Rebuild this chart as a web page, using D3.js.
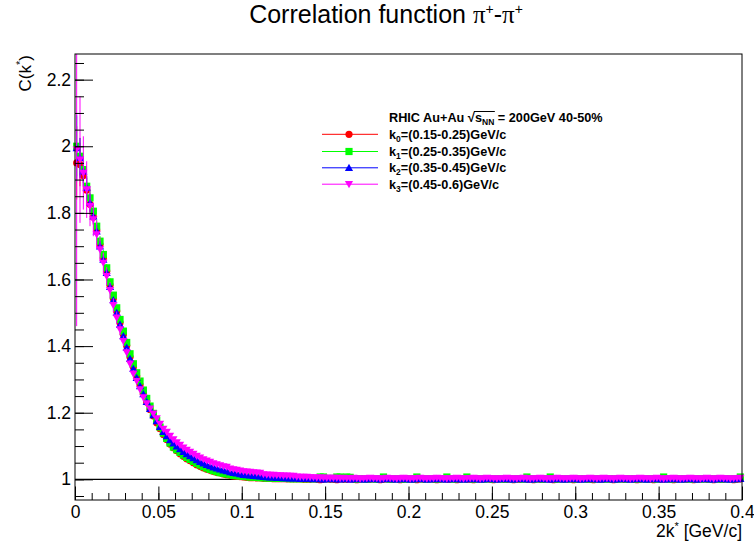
<!DOCTYPE html>
<html><head><meta charset="utf-8">
<script src="https://cdn.jsdelivr.net/npm/d3@7/dist/d3.min.js"></script>
<style>
body{margin:0;background:#fff}
svg{display:block}
text{font-family:"Liberation Sans",Arial,Helvetica,sans-serif;fill:#000}
</style>
</head><body>
<svg id="chart" width="754" height="544"></svg>
<script>
// ---------------- data ----------------
const binLow = 0, binWidth = 0.002, nBins = 200;
const xTicks = [0,0.05,0.1,0.15,0.2,0.25,0.3,0.35,0.4];
const xTickLabels = ["0","0.05","0.1","0.15","0.2","0.25","0.3","0.35","0.4"];
const yTicks = [1,1.2,1.4,1.6,1.8,2,2.2];
const yTickLabels = ["1","1.2","1.4","1.6","1.8","2","2.2"];
const seriesNames = ["k0","k1","k2","k3"];
const legendRanges = ["=(0.15-0.25)GeV/c","=(0.25-0.35)GeV/c","=(0.35-0.45)GeV/c","=(0.45-0.6)GeV/c"];

const k0Head = [1.950,1.945,1.912,1.868,1.826,1.788,1.748,1.705,1.664,1.625,
 1.583,1.543,1.505,1.470,1.435,1.401,1.367,1.337,1.309,1.283,
 1.257,1.232,1.210,1.190,1.170,1.152,1.135,1.120,1.106,1.095,
 1.086,1.077,1.069,1.062,1.056,1.050,1.044,1.039,1.034,1.030,
 1.027,1.024,1.021,1.019,1.016,1.014,1.012,1.010,1.009,1.008,
 1.007,1.006,1.005,1.005,1.004,1.004,1.003,1.003,1.003,1.002,
 1.002,1.002,1.002,1.001,1.001,1.001,1.001,1.001,1.000,1.000];
const k0Tail = [1.000,1.001,1.000,0.999,1.000,1.001,1.000,1.000,0.999,1.001,
 1.000,1.000,1.001,1.000,0.999,1.000,1.001,1.000,1.000,1.001,
 1.000,0.999,1.000,1.001,1.000,1.000,1.001,0.999,1.000,1.001,
 1.000,1.000,0.999,1.001,1.000,1.000,1.001,1.000,0.999,1.000,
 1.001,1.000,1.000,1.001,0.999,1.000,1.001,1.000,1.000,0.999,
 1.001,1.000,1.000,1.001,1.000,0.999,1.000,1.001,1.000,1.000,
 1.001,0.999,1.000,1.000,1.001,1.000,1.000,0.999,1.001,1.000,
 1.000,1.001,1.000,0.999,1.000,1.001,1.000,1.000,1.001,0.999,
 1.000,1.000,1.001,1.000,1.000,0.999,1.001,1.000,1.000,1.001,
 1.000,0.999,1.000,1.001,1.000,1.000,1.001,1.000,0.999,1.000,
 1.001,1.000,1.000,0.999,1.001,1.000,1.000,1.001,1.000,0.999,
 1.000,1.001,1.000,1.000,1.001,0.999,1.000,1.000,1.001,1.000,
 1.000,0.999,1.001,1.000,1.000,1.001,1.000,0.999,1.000,1.001];

const k1Head = [2.000,1.970,1.930,1.880,1.845,1.805,1.760,1.715,1.675,1.635,
 1.593,1.553,1.515,1.480,1.445,1.411,1.377,1.347,1.320,1.295,
 1.268,1.243,1.220,1.198,1.177,1.157,1.139,1.123,1.109,1.097,
 1.089,1.081,1.073,1.066,1.060,1.054,1.048,1.043,1.038,1.034,
 1.030,1.026,1.023,1.020,1.018,1.016,1.014,1.012,1.011,1.010,
 1.009,1.008,1.007,1.007,1.006,1.005,1.005,1.004,1.004,1.004,
 1.003,1.003,1.003,1.003,1.002,1.002,1.002,1.002,1.002,1.002];
const k1Tail = [1.002,1.002,1.002,1.007,1.007,1.002,1.003,1.002,1.007,1.007,
 1.002,1.007,1.006,1.002,1.001,1.002,1.002,1.001,1.002,1.002,
 1.001,1.002,1.007,1.002,1.001,1.002,1.002,1.001,1.002,1.001,
 1.002,1.001,1.007,1.002,1.002,1.001,1.002,1.002,1.001,1.002,
 1.002,1.007,1.002,1.001,1.002,1.002,1.001,1.007,1.002,1.001,
 1.002,1.002,1.001,1.002,1.002,1.001,1.002,1.002,1.001,1.002,
 1.002,1.001,1.002,1.002,1.001,1.007,1.002,1.001,1.002,1.002,
 1.001,1.002,1.007,1.002,1.001,1.002,1.002,1.001,1.002,1.002,
 1.001,1.002,1.002,1.001,1.002,1.002,1.001,1.002,1.002,1.001,
 1.002,1.002,1.001,1.002,1.002,1.001,1.002,1.002,1.001,1.002,
 1.002,1.001,1.002,1.002,1.001,1.002,1.007,1.002,1.001,1.002,
 1.002,1.001,1.002,1.002,1.001,1.002,1.002,1.001,1.002,1.002,
 1.001,1.002,1.002,1.001,1.002,1.002,1.001,1.002,1.002,1.007];

const k2Head = [1.995,1.965,1.925,1.875,1.830,1.790,1.745,1.700,1.660,1.620,
 1.578,1.538,1.500,1.465,1.430,1.396,1.362,1.332,1.305,1.280,
 1.256,1.233,1.212,1.193,1.175,1.158,1.143,1.130,1.118,1.108,
 1.099,1.091,1.083,1.076,1.070,1.064,1.058,1.053,1.048,1.044,
 1.040,1.036,1.033,1.030,1.027,1.025,1.022,1.020,1.018,1.016,
 1.014,1.013,1.012,1.011,1.010,1.009,1.008,1.007,1.006,1.006,
 1.005,1.005,1.004,1.004,1.003,1.003,1.003,1.002,1.002,1.002];
const k2Tail = [1.002,1.001,1.002,1.001,1.000,1.001,1.002,1.001,1.001,1.000,
 1.002,1.001,1.000,1.001,1.002,1.001,1.000,1.001,1.001,1.002,
 1.001,1.000,1.001,1.002,1.001,1.001,1.000,1.001,1.002,1.001,
 1.000,1.001,1.001,1.002,1.001,1.000,1.001,1.001,1.002,1.001,
 1.001,1.000,1.001,1.002,1.001,1.001,1.000,1.001,1.001,1.002,
 1.001,1.000,1.001,1.001,1.002,1.001,1.000,1.001,1.002,1.001,
 1.001,1.000,1.001,1.002,1.001,1.001,1.000,1.001,1.001,1.002,
 1.001,1.001,1.000,1.001,1.002,1.001,1.000,1.001,1.001,1.002,
 1.001,1.000,1.001,1.001,1.002,1.001,1.001,1.000,1.001,1.002,
 1.001,1.000,1.001,1.001,1.002,1.001,1.000,1.001,1.002,1.001,
 1.001,1.000,1.001,1.002,1.001,1.001,1.000,1.001,1.001,1.002,
 1.001,1.000,1.001,1.001,1.002,1.001,1.000,1.001,1.002,1.001,
 1.001,1.000,1.001,1.002,1.001,1.001,1.000,1.001,1.001,1.002];

const k3Head = [1.990,1.960,1.920,1.870,1.820,1.780,1.735,1.690,1.650,1.610,
 1.568,1.523,1.485,1.450,1.415,1.381,1.347,1.317,1.295,1.270,
 1.246,1.228,1.212,1.197,1.183,1.166,1.151,1.142,1.130,1.120,
 1.111,1.103,1.095,1.088,1.082,1.076,1.070,1.065,1.060,1.056,
 1.052,1.048,1.045,1.042,1.039,1.037,1.032,1.030,1.028,1.026,
 1.024,1.023,1.022,1.021,1.020,1.019,1.015,1.014,1.013,1.013,
 1.012,1.012,1.011,1.011,1.010,1.010,1.008,1.007,1.007,1.007];
const k3Tail = [1.006,1.006,1.005,1.005,1.005,1.004,1.004,1.004,1.004,1.003,
 1.004,1.003,1.003,1.004,1.003,1.002,1.003,1.003,1.004,1.003,
 1.003,1.002,1.003,1.004,1.003,1.003,1.002,1.003,1.004,1.003,
 1.002,1.003,1.003,1.004,1.003,1.002,1.003,1.003,1.004,1.003,
 1.003,1.002,1.003,1.003,1.004,1.003,1.002,1.003,1.003,1.004,
 1.003,1.002,1.003,1.004,1.003,1.003,1.002,1.003,1.003,1.004,
 1.003,1.003,1.002,1.003,1.004,1.003,1.002,1.003,1.003,1.004,
 1.003,1.002,1.003,1.003,1.004,1.003,1.003,1.002,1.003,1.004,
 1.003,1.002,1.003,1.003,1.004,1.003,1.002,1.003,1.004,1.003,
 1.003,1.002,1.003,1.004,1.003,1.003,1.002,1.003,1.003,1.004,
 1.003,1.003,1.002,1.003,1.004,1.003,1.002,1.003,1.003,1.004,
 1.003,1.002,1.003,1.003,1.004,1.003,1.003,1.002,1.003,1.004,
 1.003,1.002,1.003,1.004,1.003,1.003,1.002,1.003,1.003,1.004];

// statistical errors of the first bins (later bins: hidden under markers)
const k0Err = [0.11,0.065,0.048,0.037,0.030,0.024,0.020,0.017,0.015,0.013,0.011,0.010,0.009,0.008,0.007,0.007,0.006,0.006,0.005,0.005];
const k1Err = [0.09,0.055,0.040,0.032,0.026,0.021,0.018,0.015,0.013,0.011,0.010,0.009,0.008,0.007,0.007,0.006,0.006,0.005,0.005,0.005];
const k2Err = [0.10,0.060,0.045,0.035,0.028,0.023,0.019,0.016,0.014,0.012,0.011,0.010,0.009,0.008,0.007,0.007,0.006,0.006,0.005,0.005];
const k3Err = [0.53,0.19,0.11,0.085,0.060,0.050,0.042,0.036,0.031,0.027,0.024,0.021,0.019,0.017,0.015,0.013,0.012,0.011,0.010,0.009];

// ---------------- drawing ----------------
const colors = ["#ff0000","#00ff00","#0000ff","#ff00ff"];
const shapes = ["circle","square","triUp","triDown"];
const values = [k0Head.concat(k0Tail), k1Head.concat(k1Tail), k2Head.concat(k2Tail), k3Head.concat(k3Tail)];
const errors = [k0Err,k1Err,k2Err,k3Err];

const svg = d3.select("#chart");
const L=75, R=742, T=54, B=500;
const x = d3.scaleLinear().domain([0,0.4]).range([L,R]);
const y = d3.scaleLinear().domain([0.938,2.277]).range([B,T]);

svg.append("defs").append("clipPath").attr("id","frameClip")
  .append("rect").attr("x",L).attr("y",T).attr("width",R-L).attr("height",B-T);

function markerPath(s){
  if(s==="circle") return d3.symbol(d3.symbolCircle, Math.PI*3.6*3.6)();
  if(s==="square") return "M-3.6,-3.6h7.2v7.2h-7.2z";
  if(s==="triUp") return "M0,-4L4.1,3.2L-4.1,3.2Z";
  return "M0,4L4.1,-3.2L-4.1,-3.2Z";
}

// title
const title = svg.append("text").attr("x",386).attr("y",23).attr("text-anchor","middle").attr("font-size",25);
title.append("tspan").text("Correlation function ");
title.append("tspan").attr("font-family","Liberation Serif").text("π");
title.append("tspan").attr("font-size",14).attr("dy",-9).text("+");
title.append("tspan").attr("dy",9).text("-");
title.append("tspan").attr("font-family","Liberation Serif").text("π");
title.append("tspan").attr("font-size",14).attr("dy",-9).text("+");

// reference line at C=1
svg.append("line").attr("x1",L).attr("x2",R).attr("y1",y(1)).attr("y2",y(1))
  .attr("stroke","#000").attr("stroke-width",1.2);

// data
const centers = d3.range(nBins).map(i => binLow + binWidth*(i+0.5));
values.forEach((vals,s) => {
  const g = svg.append("g");
  const eg = g.append("g").attr("clip-path","url(#frameClip)").attr("stroke",colors[s]).attr("stroke-width",1);
  vals.forEach((v,i) => {
    const e = errors[s][i];
    eg.append("line").attr("x1",x(centers[i]-binWidth/2)).attr("x2",x(centers[i]+binWidth/2))
      .attr("y1",y(v)).attr("y2",y(v));
    if(e!==undefined){
      eg.append("line").attr("x1",x(centers[i])).attr("x2",x(centers[i]))
        .attr("y1",y(v-e)).attr("y2",y(v+e));
    }
  });
  g.selectAll("path.m").data(vals).join("path").attr("class","m")
    .attr("d",markerPath(shapes[s]))
    .attr("transform",(v,i)=>`translate(${x(centers[i])},${y(v)})`)
    .attr("fill",colors[s]);
});

// frame
svg.append("rect").attr("x",L).attr("y",T).attr("width",R-L).attr("height",B-T)
  .attr("fill","none").attr("stroke","#000").attr("stroke-width",1);

// axes
const xMinor = d3.range(0,0.4001,0.01);
const yMinor = d3.range(0.95,2.2501,0.05);
const gxMin = svg.append("g").attr("transform",`translate(0,${B})`)
  .call(d3.axisBottom(x).tickValues(xMinor).tickSize(-7).tickSizeOuter(0).tickFormat(""));
const gx = svg.append("g").attr("transform",`translate(0,${B})`)
  .call(d3.axisBottom(x).tickValues(xTicks).tickSize(-13.5).tickSizeOuter(0).tickPadding(6)
    .tickFormat((d,i)=>xTickLabels[i]));
const gyMin = svg.append("g").attr("transform",`translate(${L},0)`)
  .call(d3.axisLeft(y).tickValues(yMinor).tickSize(-9).tickSizeOuter(0).tickFormat(""));
const gy = svg.append("g").attr("transform",`translate(${L},0)`)
  .call(d3.axisLeft(y).tickValues(yTicks).tickSize(-18).tickSizeOuter(0).tickPadding(4)
    .tickFormat((d,i)=>yTickLabels[i]));
[gxMin,gx,gyMin,gy].forEach(g=>{
  g.select(".domain").remove();
  g.selectAll(".tick line").attr("stroke","#000");
  g.selectAll("text").attr("font-size",17.5).attr("font-family","Liberation Sans").attr("fill","#000");
});

// axis titles
const xt = svg.append("text").attr("x",R).attr("y",537).attr("text-anchor","end").attr("font-size",17.5);
xt.append("tspan").text("2k");
xt.append("tspan").attr("font-size",11).attr("dy",-7).text("*");
xt.append("tspan").attr("dy",7).text(" [GeV/c]");

const yt = svg.append("text").attr("transform","translate(31,55) rotate(-90)").attr("text-anchor","end").attr("font-size",17);
yt.append("tspan").text("C(k");
yt.append("tspan").attr("font-size",11).attr("dy",-7).text("*");
yt.append("tspan").attr("dy",7).text(")");

// legend
const lg = svg.append("g").attr("font-weight","bold");
const tx = 389, hy = 122;
let cx = tx;
function piece(str, opts={}){
  const t = lg.append("text").attr("x",cx).attr("y",hy+(opts.dy||0)).attr("font-size",opts.fs||12.7)
    .style("white-space","pre").text(str);
  const w = t.node().getComputedTextLength();
  const x0 = cx; cx += w; return {x0, w};
}
piece("RHIC Au+Au ");
const sq = piece("\u221A",{fs:13});
const sPart = piece("s");
const nnPart = piece("NN",{fs:8.5,dy:3});
lg.append("path").attr("d",`M${sq.x0+sq.w-1},${hy-10.5}H${nnPart.x0+nnPart.w+0.5}`)
  .attr("stroke","#000").attr("stroke-width",1).attr("fill","none");
piece(" = 200GeV 40-50%");

const rowY = [134.3,151.5,167.8,184.2];
seriesNames.forEach((nm,s)=>{
  const yy = rowY[s];
  lg.append("line").attr("x1",322).attr("x2",378).attr("y1",yy).attr("y2",yy)
    .attr("stroke",colors[s]).attr("stroke-width",1);
  lg.append("path").attr("d",markerPath(shapes[s])).attr("transform",`translate(349,${yy})`).attr("fill",colors[s]);
  const t = lg.append("text").attr("x",tx).attr("y",yy+4.3).attr("font-size",12.7);
  t.append("tspan").text("k");
  t.append("tspan").attr("font-size",8.5).attr("dy",3).text(nm.slice(1));
  t.append("tspan").attr("dy",-3).text(legendRanges[s]);
});
</script>
</body></html>
